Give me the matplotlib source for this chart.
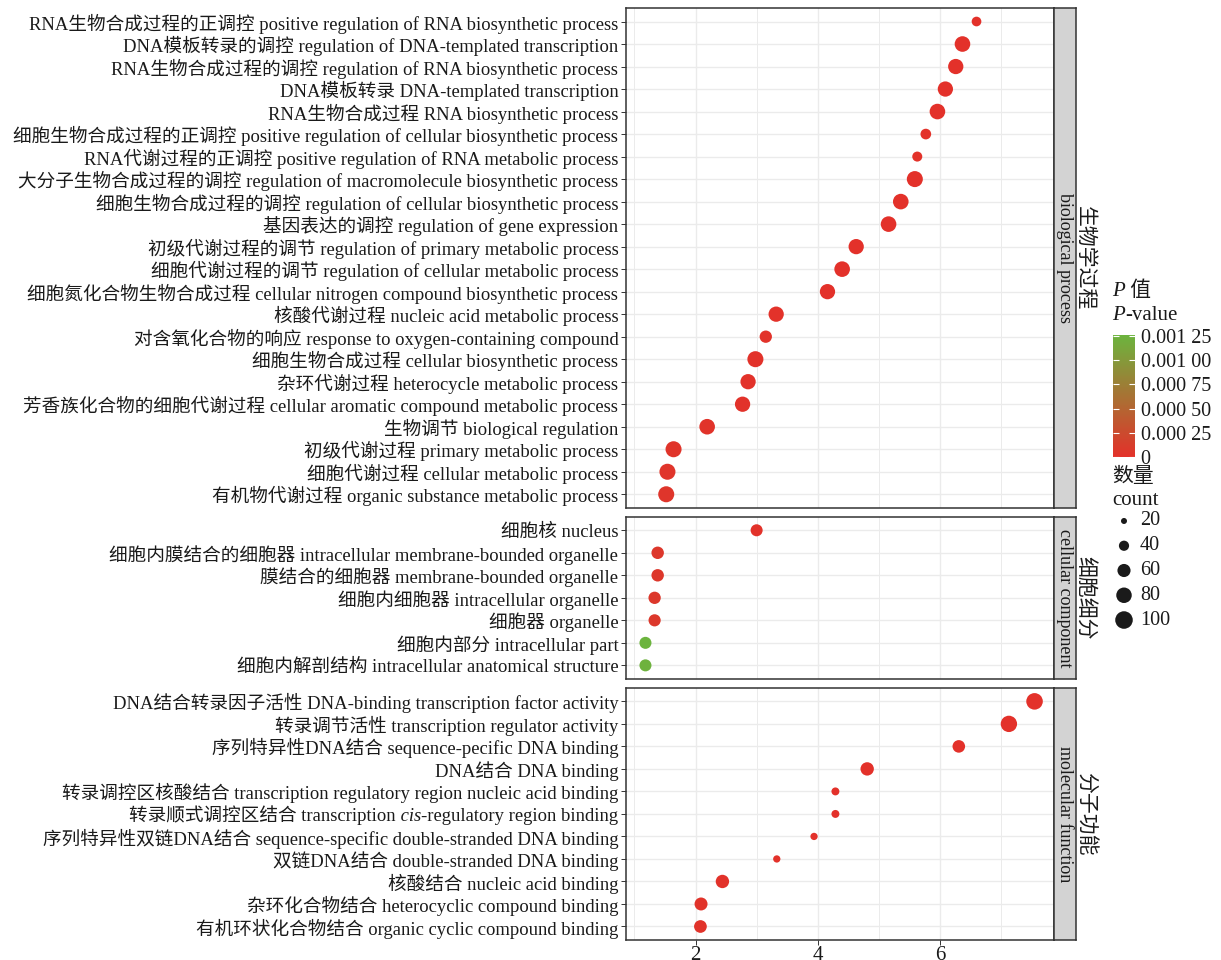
import numpy as np
import matplotlib
matplotlib.use('Agg')
import matplotlib.pyplot as plt
from matplotlib.colors import LinearSegmentedColormap, Normalize
from matplotlib.cm import ScalarMappable
from matplotlib.offsetbox import TextArea, HPacker, VPacker, AnnotationBbox

FONT = ['Liberation Serif', 'Noto Sans CJK SC']
plt.rcParams['font.family'] = FONT

# GO enrichment results, listed top to bottom within each ontology
bp_terms = [
    'RNA生物合成过程的正调控 positive regulation of RNA biosynthetic process',
    'DNA模板转录的调控 regulation of DNA-templated transcription',
    'RNA生物合成过程的调控 regulation of RNA biosynthetic process',
    'DNA模板转录 DNA-templated transcription',
    'RNA生物合成过程 RNA biosynthetic process',
    '细胞生物合成过程的正调控 positive regulation of cellular biosynthetic process',
    'RNA代谢过程的正调控 positive regulation of RNA metabolic process',
    '大分子生物合成过程的调控 regulation of macromolecule biosynthetic process',
    '细胞生物合成过程的调控 regulation of cellular biosynthetic process',
    '基因表达的调控 regulation of gene expression',
    '初级代谢过程的调节 regulation of primary metabolic process',
    '细胞代谢过程的调节 regulation of cellular metabolic process',
    '细胞氮化合物生物合成过程 cellular nitrogen compound biosynthetic process',
    '核酸代谢过程 nucleic acid metabolic process',
    '对含氧化合物的响应 response to oxygen-containing compound',
    '细胞生物合成过程 cellular biosynthetic process',
    '杂环代谢过程 heterocycle metabolic process',
    '芳香族化合物的细胞代谢过程 cellular aromatic compound metabolic process',
    '生物调节 biological regulation',
    '初级代谢过程 primary metabolic process',
    '细胞代谢过程 cellular metabolic process',
    '有机物代谢过程 organic substance metabolic process',
]
bp_x = [6.60, 6.37, 6.26, 6.09, 5.96, 5.77, 5.63, 5.59, 5.36, 5.16, 4.63,
        4.40, 4.16, 3.32, 3.15, 2.98, 2.86, 2.77, 2.19, 1.64, 1.54, 1.52]
bp_count = [37, 81, 78, 78, 81, 43, 39, 85, 81, 81, 78,
            81, 78, 78, 54, 85, 78, 78, 81, 85, 85, 85]
bp_p = [2e-6, 1e-8, 1e-8, 2e-8, 3e-8, 5e-6, 8e-6, 5e-8, 1e-7, 2e-7, 1e-6,
        2e-6, 3e-6, 8e-6, 1.5e-5, 1e-5, 1.2e-5, 1.3e-5, 2e-5, 3e-5, 3.5e-5, 4e-5]

cc_terms = [
    '细胞核 nucleus',
    '细胞内膜结合的细胞器 intracellular membrane-bounded organelle',
    '膜结合的细胞器 membrane-bounded organelle',
    '细胞内细胞器 intracellular organelle',
    '细胞器 organelle',
    '细胞内部分 intracellular part',
    '细胞内解剖结构 intracellular anatomical structure',
]
cc_x = [3.00, 1.38, 1.38, 1.33, 1.33, 1.18, 1.18]
cc_count = [52, 55, 55, 54, 53, 52, 52]
cc_p = [1e-5, 6e-5, 6e-5, 7e-5, 7e-5, 0.00126, 0.00124]

mf_terms = [
    'DNA结合转录因子活性 DNA-binding transcription factor activity',
    '转录调节活性 transcription regulator activity',
    '序列特异性DNA结合 sequence-pecific DNA binding',
    'DNA结合 DNA binding',
    '转录调控区核酸结合 transcription regulatory region nucleic acid binding',
    '转录顺式调控区结合 transcription cis-regulatory region binding',
    '序列特异性双链DNA结合 sequence-specific double-stranded DNA binding',
    '双链DNA结合 double-stranded DNA binding',
    '核酸结合 nucleic acid binding',
    '杂环化合物结合 heterocyclic compound binding',
    '有机环状化合物结合 organic cyclic compound binding',
]
mf_x = [7.55, 7.13, 6.31, 4.81, 4.29, 4.29, 3.94, 3.33, 2.44, 2.09, 2.08]
mf_count = [90, 88, 56, 62, 28, 28, 25, 25, 62, 59, 57]
mf_p = [1e-9, 1e-9, 5e-8, 2e-7, 1e-6, 1e-6, 3e-6, 8e-6, 1e-5, 2e-5, 2e-5]

size_levels = [20, 40, 60, 80, 100]
p_ticks = [0, 0.00025, 0.0005, 0.00075, 0.001, 0.00125]
p_tick_labels = ['0', '0.000 25', '0.000 50', '0.000 75', '0.001 00', '0.001 25']

groups = [
    ('biological process', '生物学过程', bp_terms, bp_x, bp_count, bp_p),
    ('cellular component', '细胞细分', cc_terms, cc_x, cc_count, cc_p),
    ('molecular function', '分子功能', mf_terms, mf_x, mf_count, mf_p),
]

W, H = 1221, 960
fig = plt.figure(figsize=(W / 100, H / 100), dpi=100)
LABEL_SIZE = 13.4
INK = '#1A1A1A'


def rect(x0, y0, x1, y1):
    # pixel box (top-left origin) -> figure fraction
    return [x0 / W, 1 - y1 / H, (x1 - x0) / W, (y1 - y0) / H]


def dot_area(c):
    d_px = np.sqrt(36 + 3.4 * (np.asarray(c, float) - 20))
    return (d_px * 0.72) ** 2


def rich(parts, size, color=INK):
    boxes = [TextArea(t, textprops=dict(family=FONT, fontsize=size, color=color,
                                        style=st)) for t, st in parts]
    return HPacker(children=boxes, align='baseline', pad=0, sep=0)


cmap = LinearSegmentedColormap.from_list('pval', ['#E3312A', '#6CB43E'])
norm = Normalize(vmin=0, vmax=max(bp_p + cc_p + mf_p))

all_x = bp_x + cc_x + mf_x
span = max(all_x) - min(all_x)
xlim = (min(all_x) - 0.05 * span, max(all_x) + 0.05 * span)

left, right, strip_w = 626, 1054, 22
top, bottom, gap = 8, 940, 9
units = [len(g[2]) - 1 + 1.2 for g in groups]
unit = (bottom - top - gap * (len(groups) - 1)) / sum(units)

y0 = top
grid_c = '#EBEBEB'
border_c = '#333333'
for k, (strip, strip_cn, terms, xs, counts, ps) in enumerate(groups):
    h = units[k] * unit
    ax = fig.add_axes(rect(left, y0, right, y0 + h))
    n = len(terms)
    ypos = np.arange(n)
    ax.scatter(xs, ypos, s=dot_area(counts), c=ps, cmap=cmap, norm=norm,
               edgecolors='none', zorder=3)
    ax.set_xlim(xlim)
    ax.set_ylim(n - 1 + 0.6, -0.6)
    ax.set_xticks([2, 4, 6])
    ax.set_xticks([1, 3, 5, 7], minor=True)
    ax.set_yticks(ypos)
    labels = ['' if ' cis-' in t else t for t in terms]
    ax.set_yticklabels(labels, fontsize=LABEL_SIZE, color=INK)
    ax.grid(which='major', color=grid_c, lw=1.0)
    ax.grid(which='minor', axis='x', color=grid_c, lw=0.7)
    ax.set_axisbelow(True)
    ax.tick_params(axis='y', length=3.5, width=0.7, color=border_c, pad=2)
    ax.tick_params(axis='x', which='minor', length=0)
    if k == len(groups) - 1:
        ax.tick_params(axis='x', which='major', length=3.5, width=0.7,
                       color=border_c, labelsize=15, labelcolor=INK, pad=1)
    else:
        ax.tick_params(axis='x', which='both', bottom=False, labelbottom=False)
    for sp in ax.spines.values():
        sp.set_color(border_c)
        sp.set_linewidth(1.1)

    # italic "cis" label drawn in pieces
    for i, t in enumerate(terms):
        if ' cis-' in t:
            a, b = t.split(' cis-')
            box = rich([(a, 'normal'), (' cis', 'italic'), ('-' + b, 'normal')], LABEL_SIZE)
            ab = AnnotationBbox(box, (0, i), xycoords=ax.get_yaxis_transform(),
                                xybox=(-5.5, -0.5), boxcoords='offset points',
                                box_alignment=(1, 0.5), frameon=False, pad=0,
                                annotation_clip=False)
            ax.add_artist(ab)

    # facet strip
    sax = fig.add_axes(rect(right, y0, right + strip_w, y0 + h))
    sax.set_facecolor('#D3D3D3')
    sax.set_xticks([])
    sax.set_yticks([])
    for sp in sax.spines.values():
        sp.set_color(border_c)
        sp.set_linewidth(1.1)
    sax.text(0.5, 0.5, strip, rotation=-90, ha='center', va='center',
             fontsize=13, color=INK, transform=sax.transAxes)
    fig.text((right + strip_w + 8) / W, 1 - (y0 + h / 2) / H, strip_cn,
             rotation=-90, ha='center', va='center', fontsize=15, color=INK)
    y0 += h + gap

# colour legend
title = VPacker(children=[rich([('P', 'italic'), (' 值', 'normal')], 15),
                          rich([('P', 'italic'), ('-value', 'normal')], 15)],
                align='left', pad=0, sep=3)
fig.add_artist(AnnotationBbox(title, (1112 / W, 1 - 282 / H), xycoords='figure fraction',
                              box_alignment=(0, 1), frameon=False, pad=0))
cax = fig.add_axes(rect(1113, 335, 1135, 457))
cb = fig.colorbar(ScalarMappable(norm=norm, cmap=cmap), cax=cax)
cb.outline.set_visible(False)
cb.set_ticks(p_ticks)
cb.set_ticklabels(p_tick_labels)
cax.tick_params(axis='y', direction='in', color='white', length=4, width=0.8,
                left=True, right=True, labelsize=14.5, labelcolor=INK, pad=4)

# size legend
fig.text(1112 / W, 1 - 477 / H, '数量', ha='left', va='center', fontsize=15, color=INK)
fig.text(1112 / W, 1 - 500 / H, 'count', ha='left', va='center', fontsize=15, color=INK)
lax = fig.add_axes(rect(1105, 508.6, 1215, 632.4))
lax.set_xlim(0, 110)
lax.set_ylim(len(size_levels) - 0.5, -0.5)
lax.axis('off')
lax.scatter(np.full(len(size_levels), 19), np.arange(len(size_levels)),
            s=dot_area(size_levels), color=INK, edgecolors='none')
for i, v in enumerate(size_levels):
    lax.text(35, i, str(v), ha='left', va='center', fontsize=14.5, color=INK)

fig.savefig('out.png', dpi=100)
